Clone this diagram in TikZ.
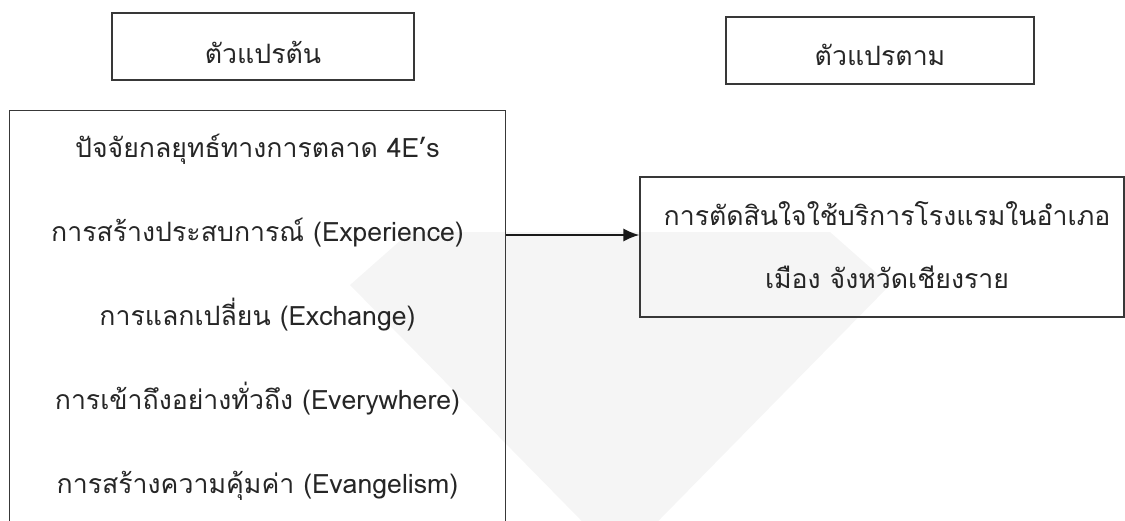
\documentclass[tikz,border=0pt]{standalone}
\usepackage{fontspec}
\setmainfont[Script=Thai]{Loma}
\usetikzlibrary{arrows.meta}
\begin{document}
\begin{tikzpicture}[x=0.75pt,y=-0.75pt,
  box/.style={draw=black!78,line width=1pt,inner sep=0pt},
  lbl/.style={font=\fontsize{20}{24}\selectfont,anchor=base,inner sep=0pt,text=black!85}]
\useasboundingbox (0,0) rectangle (1125,521);
\clip (0,0) rectangle (1125,521);
% faint watermark
\fill[black!4] (350,285) -- (410,232) -- (830,232) -- (890,285) -- (620,560) -- cycle;
% boxes
\node[box,minimum width=226.5pt,minimum height=50.25pt] (iv) at (263,46.5) {};
\node[box,minimum width=231pt,minimum height=50.25pt] (dv) at (880,50.5) {};
\node[box,minimum width=372pt,minimum height=337pt] (big) at (257.5,335.35) {};
\node[box,minimum width=363pt,minimum height=105pt] (res) at (882,247) {};
% texts
\node[lbl] (t1) at (263,63) {ตัวแปรต้น};
\node[lbl] (t2) at (880,65) {ตัวแปรตาม};
\node[lbl] (b1) at (257.5,157) {ปัจจัยกลยุทธ์ทางการตลาด 4E’s};
\node[lbl] (b2) at (257.5,241) {การสร้างประสบการณ์ (Experience)};
\node[lbl] (b3) at (257.5,325) {การแลกเปลี่ยน (Exchange)};
\node[lbl] (b4) at (257.5,409) {การเข้าถึงอย่างทั่วถึง (Everywhere)};
\node[lbl] (b5) at (257.5,493) {การสร้างความคุ้มค่า (Evangelism)};
\node[lbl] (r1) at (887,225) {การตัดสินใจใช้บริการโรงแรมในอำเภอ};
\node[lbl] (r2) at (887,288) {เมือง จังหวัดเชียงราย};
% arrow
\coordinate (ay) at (0,235);
\draw[line width=1.6pt,draw=black!90,-{Latex[length=12pt,width=10pt]}] (big.east |- ay) -- (res.west |- ay);
\end{tikzpicture}
\end{document}
